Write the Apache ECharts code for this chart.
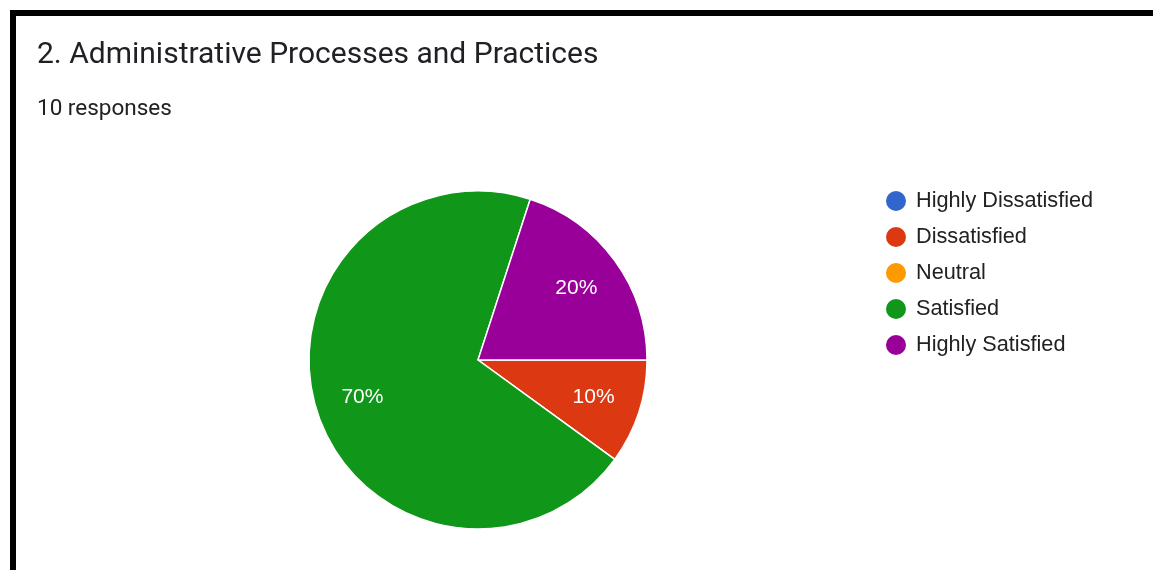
<!DOCTYPE html>
<html>
<head>
<meta charset="utf-8">
<script src="https://cdn.jsdelivr.net/npm/echarts@6/dist/echarts.min.js"></script>
<style>
html,body{margin:0;padding:0;background:#fff;}
#chart{width:1153px;height:570px;}
</style>
</head>
<body>
<div id="chart"></div>
<script>
const titleText = '2. Administrative Processes and Practices';
const subText = '10 responses';
const categories = ['Highly Dissatisfied', 'Dissatisfied', 'Neutral', 'Satisfied', 'Highly Satisfied'];
const counts = [0, 1, 0, 7, 2];
const colors = ['#3366cc', '#dc3912', '#ff9900', '#109618', '#990099'];

const total = counts.reduce((a, b) => a + b, 0);
const data = categories.map((c, i) => ({ name: c, value: counts[i], itemStyle: { color: colors[i] } }));
const labelData = categories.map((c, i) => ({ name: c, value: counts[i] }));

const chart = echarts.init(document.getElementById('chart'));
chart.setOption({
  animation: false,
  backgroundColor: '#fff',
  title: [
    { text: titleText, left: 37, top: 40, padding: 0, textStyle: { fontFamily: 'Roboto', fontSize: 30, fontWeight: 'normal', color: '#202124' } },
    { text: subText, left: 37, top: 98, padding: 0, textStyle: { fontFamily: 'Roboto', fontSize: 22.5, fontWeight: 'normal', color: '#202124' } }
  ],
  legend: {
    orient: 'vertical',
    left: 884,
    top: 189,
    padding: 0,
    icon: 'circle',
    itemWidth: 22,
    itemHeight: 22,
    itemGap: 12,
    selectedMode: false,
    textStyle: { fontFamily: 'Arial', fontSize: 21.7, lineHeight: 22, height: 22, color: '#222222', padding: [0, 0, 0, 4] },
    data: categories.map((c, i) => ({ name: c, itemStyle: { color: colors[i], opacity: 1 } }))
  },
  graphic: [
    { type: 'rect', shape: { x: 10, y: 10, width: 1143, height: 6 }, style: { fill: '#000' }, z: 100 },
    { type: 'rect', shape: { x: 10, y: 10, width: 6, height: 560 }, style: { fill: '#000' }, z: 100 }
  ],
  series: [
    {
      type: 'pie',
      center: [478, 360],
      radius: [0, 169],
      startAngle: 0,
      clockwise: true,
      silent: true,
      label: { show: false },
      labelLine: { show: false },
      itemStyle: { borderColor: '#ffffff', borderWidth: 1.5 },
      data: data
    },
    {
      type: 'pie',
      center: [478, 360],
      radius: [68, 169],
      startAngle: 0,
      clockwise: true,
      silent: true,
      z: 5,
      itemStyle: { color: 'rgba(0,0,0,0)', borderWidth: 0 },
      label: {
        show: true,
        position: 'inside',
        fontFamily: 'Arial',
        fontSize: 21,
        color: '#ffffff',
        formatter: p => p.value > 0 ? Math.round(p.value / total * 100) + '%' : ''
      },
      labelLine: { show: false },
      data: labelData
    }
  ]
});
</script>
</body>
</html>
